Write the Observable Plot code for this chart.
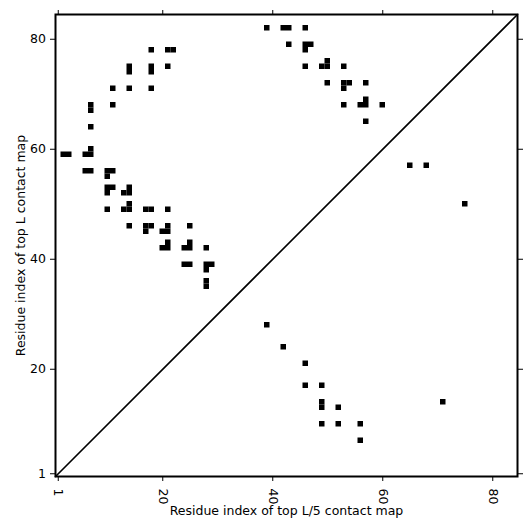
<!DOCTYPE html>
<html><head><meta charset="utf-8">
<script src="https://cdn.jsdelivr.net/npm/d3@7"></script>
<script src="https://cdn.jsdelivr.net/npm/@observablehq/plot@0.6"></script>
<style>body{margin:0;background:#fff}</style>
</head><body><div id="chart"></div>
<script>
const L = 84;
const tickValues = [1, 20, 40, 60, 80];
// contacts of top L map (upper triangle), [residue i, residue j]
const topL = [
  [18,78],[21,78],[22,78],[21,75],[14,75],[14,74],[18,75],[18,74],[11,71],[14,71],[18,71],
  [7,68],[7,67],[11,68],[7,64],[2,59],[3,59],[7,60],[6,59],[7,59],[6,56],[7,56],[10,56],[11,56],
  [10,55],[10,53],[11,53],[10,52],[14,53],[13,52],[14,52],[10,49],[14,50],[13,49],[14,49],
  [17,49],[18,49],[21,49],[14,46],[17,46],[18,46],[17,45],[21,46],[20,45],[21,45],[25,46],
  [21,43],[20,42],[21,42],[25,43],[24,42],[25,42],[28,42],[24,39],[25,39],[28,39],[29,39],
  [28,38],[28,36],[28,35],
  [39,82],[42,82],[43,82],[46,82],[43,79],[46,79],[47,79],[46,78],[46,75],[50,76],[49,75],
  [50,75],[53,75],[50,72],[53,72],[54,72],[53,71],[57,72],[53,68],[57,69],[56,68],[57,68],
  [60,68],[57,65]
];
// contacts of top L/5 map (lower triangle)
const topL5 = [
  [65,57],[68,57],[75,50],[39,28],[42,24],[46,21],[46,17],[49,17],[49,14],[49,13],[52,13],
  [71,14],[49,10],[52,10],[56,10],[56,7]
];
const xLabel = "Residue index of top L/5 contact map";
const yLabel = "Residue index of top L contact map";
const extent = [0.5, L + 0.5];

const cellOpts = {
  x1: d => d[0] - 0.5, x2: d => d[0] + 0.5,
  y1: d => d[1] - 0.5, y2: d => d[1] + 0.5,
  fill: "black"
};

const chart = Plot.plot({
  width: 531, height: 531,
  marginLeft: 55, marginRight: 14, marginTop: 14, marginBottom: 55,
  style: {fontFamily: "DejaVu Sans", fontSize: "12.5px", color: "black", background: "white"},
  x: {domain: extent},
  y: {domain: extent},
  marks: [
    Plot.rect(topL, cellOpts),
    Plot.rect(topL5, cellOpts),
    Plot.line(extent.map(v => [v, v]), {stroke: "black", strokeWidth: 1.6}),
    Plot.frame({stroke: "black", strokeWidth: 2}),
    Plot.axisX({anchor: "bottom", ticks: tickValues, tickSize: 5, tickPadding: 7, tickRotate: 90,
      label: xLabel, labelAnchor: "center", labelArrow: "none", labelOffset: 38}),
    Plot.axisX({anchor: "top", ticks: tickValues, tickSize: 5, tickFormat: () => "", label: null}),
    Plot.axisY({anchor: "left", ticks: tickValues, tickSize: 5, tickPadding: 4.5,
      label: yLabel, labelAnchor: "center", labelArrow: "none", labelOffset: 39}),
    Plot.axisY({anchor: "right", ticks: tickValues, tickSize: 5, tickFormat: () => "", label: null})
  ]
});
document.getElementById("chart").appendChild(chart);
</script>
</body></html>
